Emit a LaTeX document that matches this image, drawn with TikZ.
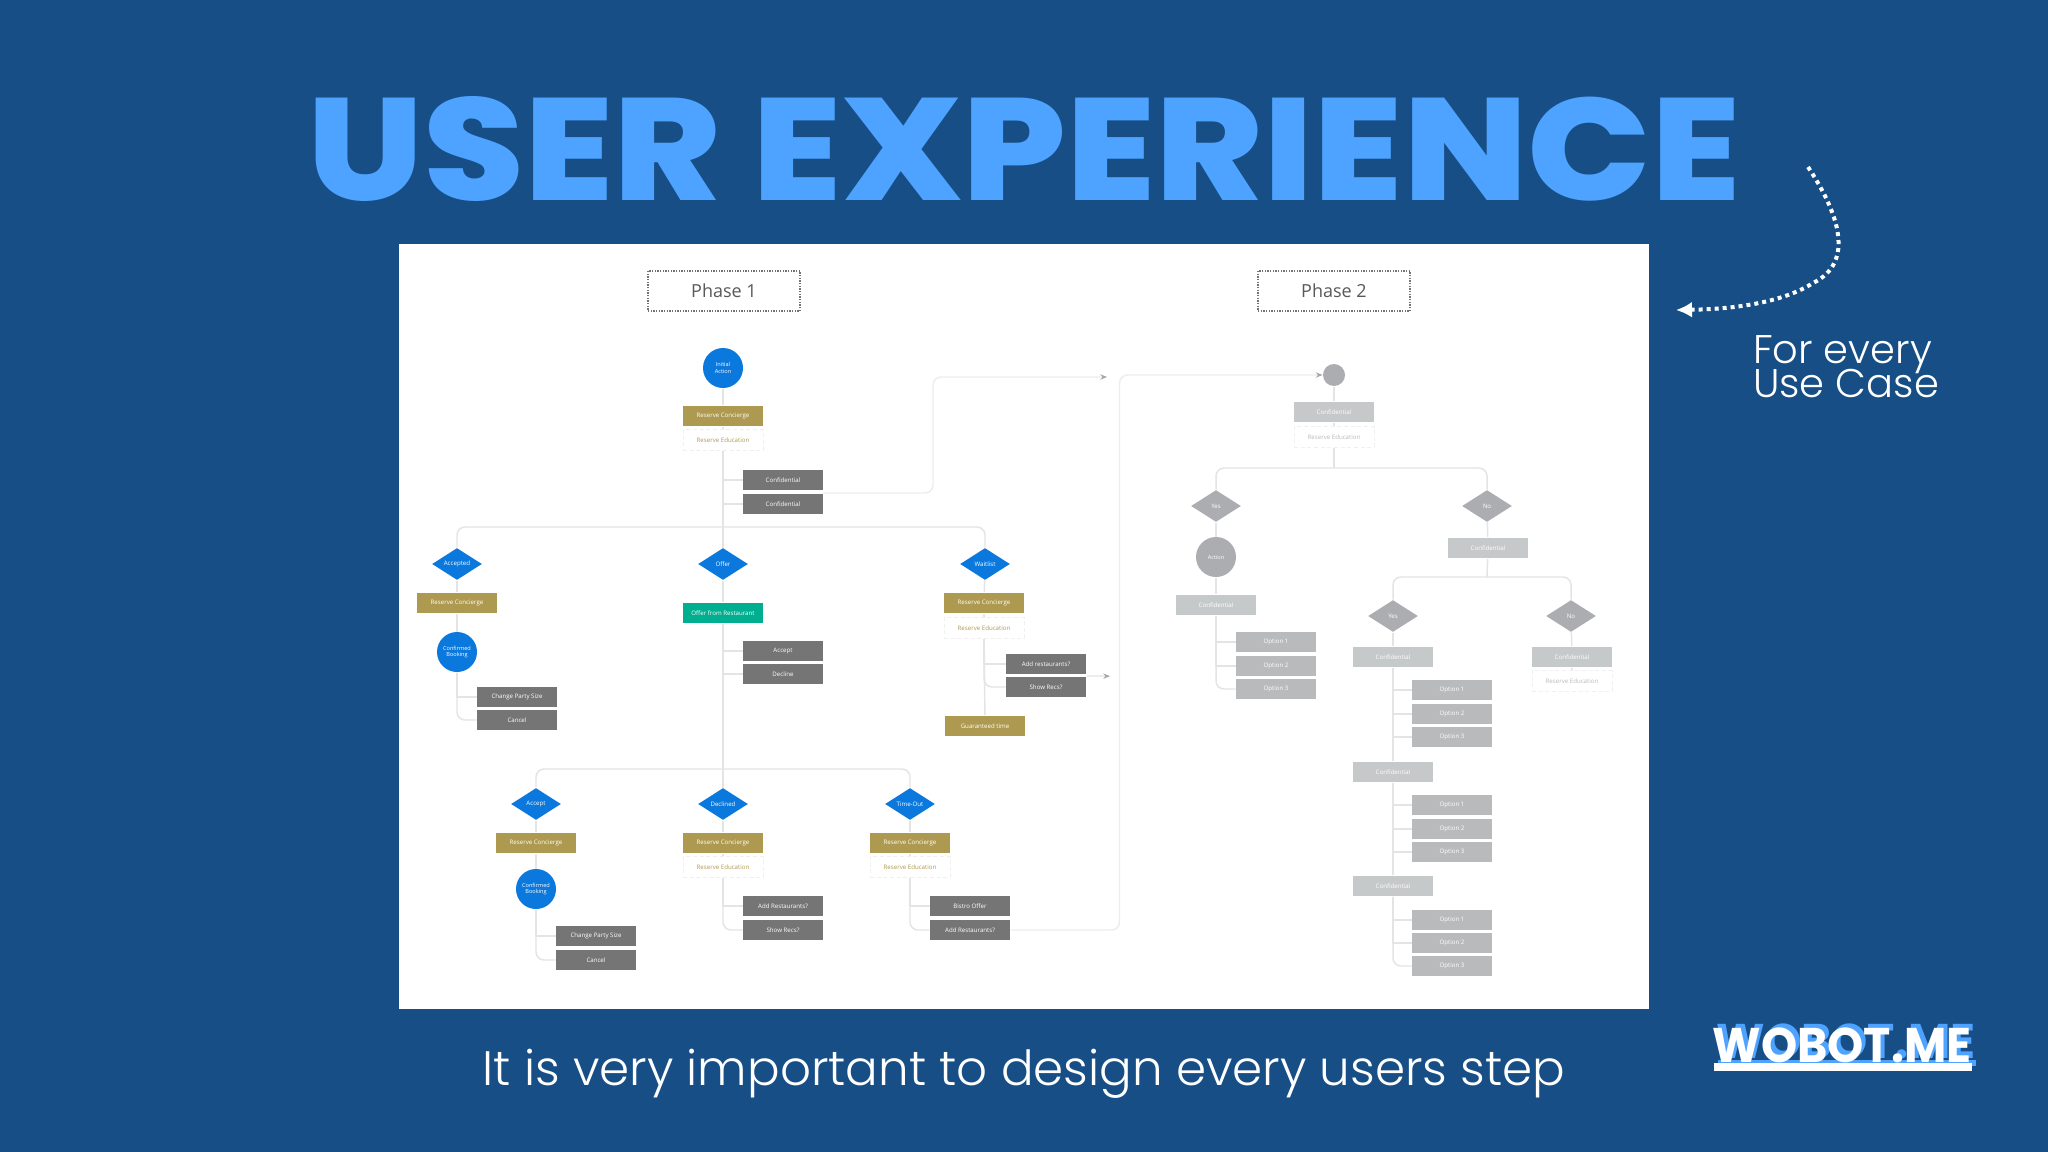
\documentclass[tikz,border=0pt]{standalone}
\usepackage{fontspec}
\usepackage{graphicx}
\usetikzlibrary{shapes.geometric,arrows.meta}
\setmainfont{Open Sans}
\newfontfamily\titlefont{Poppins ExtraBold}
\newfontfamily\logofont{Poppins}[UprightFont=* Bold]
\newfontfamily\lightfont{Poppins}[UprightFont=* Light]
\definecolor{slidebg}{RGB}{23,78,134}
\definecolor{titleblue}{RGB}{77,163,255}
\definecolor{flowblue}{RGB}{10,120,220}
\definecolor{flowgold}{RGB}{174,153,80}
\definecolor{flowteal}{RGB}{0,174,144}
\definecolor{flowgray}{RGB}{117,117,117}
\definecolor{paledia}{RGB}{171,173,176}
\definecolor{paleopt}{RGB}{184,186,188}
\definecolor{palebox}{RGB}{198,201,202}
\definecolor{linkgray}{RGB}{228,228,228}
\tikzset{every picture/.style={line width=0.75pt}}
\tikzset{
  cell/.style={draw=none,minimum width=60pt,minimum height=15.5pt,inner sep=0pt,font=\fontsize{4.6}{5.4}\selectfont,text=white,align=center},
  goldbox/.style={cell,fill=flowgold},
  tealbox/.style={cell,fill=flowteal},
  graybox/.style={cell,fill=flowgray},
  optbox/.style={cell,fill=paleopt},
  palebox/.style={cell,fill=palebox},
  eduline/.style={cell,fill=white,draw=black!6,densely dashed,text=flowgold},
  paleedu/.style={eduline,text=paleopt},
  bluedia/.style={shape=diamond,aspect=1.5,fill=flowblue,minimum width=37.5pt,minimum height=24pt,inner sep=0pt,font=\fontsize{4.6}{5.4}\selectfont,text=white},
  paledia/.style={bluedia,fill=paledia},
  bluecirc/.style={shape=circle,fill=flowblue,minimum size=30pt,inner sep=0pt,font=\fontsize{4.2}{5}\selectfont,text=white,align=center},
  palecirc/.style={bluecirc,fill=paledia},
  phasebox/.style={draw=black!55,densely dotted,line width=1pt,minimum width=114pt,minimum height=30pt,inner sep=0pt,text=black!65,font=\fontsize{13.5}{16}\selectfont},
  link/.style={draw=linkgray,line width=1.1pt},
  curvelink/.style={link,rounded corners=6pt},
  pointer/.style={curvelink,draw=black!7,-{Stealth[length=5pt,width=4pt,color=black!35]}}
}

\begin{document}
\begin{tikzpicture}[x=0.75pt,y=0.75pt,yscale=-1,xscale=1]
\useasboundingbox (0,0) rectangle (2048,1152);
\fill [slidebg] (0,0) rectangle (2048,1152);
\fill [white] (399,244) rectangle (1649,1009);

% Slide texts
\draw (1024,148.5) node [titleblue] (title) {\resizebox{1075pt}{78pt}{\titlefont USER EXPERIENCE}};
\draw (1024,1074) node [white] (caption) {\resizebox{812pt}{!}{\lightfont It is very important to design every users step}};
\draw (1846,367) node [white,align=left,font=\lightfont\fontsize{30}{24}\selectfont] (usecase) {For every\\[-4.5pt]Use Case};

%Logo
\draw (1846,1041) node [titleblue] (logoback) {\resizebox{194pt}{26pt}{\logofont WOBOT.ME}};
\fill [titleblue] (1718,1060) rectangle (1976,1066);
\draw (1842,1045) node [white] (logofront) {\resizebox{194pt}{26pt}{\logofont WOBOT.ME}};
\fill [white] (1714,1063) rectangle (1972,1071);

%Curved pointer
\coordinate (curlfrom) at (1808,167);
\coordinate (curlto) at (1676,310);
\draw [white,line width=3pt,dash pattern=on 3pt off 3pt,-{Latex[length=12pt,width=12pt]}] (curlfrom) .. controls (1838,212) and (1856,262) .. (1813,283) .. controls (1785,301) and (1740,309) .. (curlto);

% Phase 1 titles
\draw (724,291) node [phasebox] (phaseA) {Phase 1};
\draw (1334,291) node [phasebox] (phaseB) {Phase 2};

% Phase 1, top
\draw (723,368) node [bluecirc] (initial) {Initial\\Action};
\draw (723,416) node [goldbox] (conA) {Reserve Concierge};
\draw (723,440) node [eduline] (eduA) {Reserve Education};
\draw (783,480) node [graybox] (confA) {Confidential};
\draw (783,504) node [graybox] (confB) {Confidential};
\coordinate (hubA) at (723,527);

% Accepted branch
\draw (457,564) node [bluedia] (accepted) {Accepted};
\draw (457,603) node [goldbox] (conB) {Reserve Concierge};
\draw (457,652) node [bluecirc] (bookedA) {Confirmed\\Booking};
\draw (517,697) node [graybox] (sizeA) {Change Party Size};
\draw (517,720) node [graybox] (cancelA) {Cancel};

% Offer branch
\draw (723,564) node [bluedia] (offer) {Offer};
\draw (723,613) node [tealbox] (offerbox) {Offer from Restaurant};
\draw (783,651) node [graybox] (acceptbox) {Accept};
\draw (783,674) node [graybox] (declinebox) {Decline};
\coordinate (hubB) at (723,769);

% Waitlist branch
\draw (985,564) node [bluedia] (waitlist) {Waitlist};
\draw (984,603) node [goldbox] (conC) {Reserve Concierge};
\draw (984,628) node [eduline] (eduB) {Reserve Education};
\draw (1046,664) node [graybox] (addA) {Add restaurants?};
\draw (1046,687) node [graybox] (recsA) {Show Recs?};
\draw (985,726) node [goldbox] (guaranteed) {Guaranteed time};
\coordinate (stubA) at (1110,677);

% Lower branches
\draw (536,804) node [bluedia] (acceptdia) {Accept};
\draw (536,843) node [goldbox] (conD) {Reserve Concierge};
\draw (536,889) node [bluecirc] (bookedB) {Confirmed\\Booking};
\draw (596,936) node [graybox] (sizeB) {Change Party Size};
\draw (596,960) node [graybox] (cancelB) {Cancel};
\draw (723,804) node [bluedia] (declined) {Declined};
\draw (723,843) node [goldbox] (conE) {Reserve Concierge};
\draw (723,867) node [eduline] (eduC) {Reserve Education};
\draw (783,906) node [graybox] (addB) {Add Restaurants?};
\draw (783,930) node [graybox] (recsB) {Show Recs?};
\draw (910,804) node [bluedia] (timeout) {Time-Out};
\draw (910,843) node [goldbox] (conF) {Reserve Concierge};
\draw (910,867) node [eduline] (eduD) {Reserve Education};
\draw (970,906) node [graybox] (bistro) {Bistro Offer};
\draw (970,930) node [graybox] (addC) {Add Restaurants?};

% Phase 2, top
\draw (1334,375) node [palecirc,minimum size=16.5pt] (startdot) {};
\draw (1334,412) node [palebox] (confC) {Confidential};
\draw (1334,437) node [paleedu] (eduE) {Reserve Education};
\coordinate (hubC) at (1334,468);

% Phase 2, left
\draw (1216,506) node [paledia] (yesA) {Yes};
\draw (1216,557) node [palecirc] (action) {Action};
\draw (1216,605) node [palebox] (confD) {Confidential};
\draw (1276,642) node [optbox] (optA) {Option 1};
\draw (1276,666) node [optbox] (optB) {Option 2};
\draw (1276,689) node [optbox] (optC) {Option 3};

% Phase 2, right
\draw (1487,506) node [paledia] (noA) {No};
\draw (1488,548) node [palebox] (confE) {Confidential};
\coordinate (hubD) at (1487,577);
\draw (1393,616) node [paledia] (yesB) {Yes};
\draw (1393,657) node [palebox] (confF) {Confidential};
\draw (1452,690) node [optbox] (optD) {Option 1};
\draw (1452,714) node [optbox] (optE) {Option 2};
\draw (1452,737) node [optbox] (optF) {Option 3};
\draw (1393,772) node [palebox] (confG) {Confidential};
\draw (1452,805) node [optbox] (optG) {Option 1};
\draw (1452,829) node [optbox] (optH) {Option 2};
\draw (1452,852) node [optbox] (optI) {Option 3};
\draw (1393,886) node [palebox] (confH) {Confidential};
\draw (1452,920) node [optbox] (optJ) {Option 1};
\draw (1452,943) node [optbox] (optK) {Option 2};
\draw (1452,966) node [optbox] (optL) {Option 3};
\draw (1571,616) node [paledia] (noB) {No};
\draw (1572,657) node [palebox] (confI) {Confidential};
\draw (1572,681) node [paleedu] (eduF) {Reserve Education};

% Connectors, phase 1
\draw [link] (initial) -- (conA);
\draw [link] (conA) -- (eduA);
\draw [link] (eduA) -- (offer);
\draw [link] (eduA.south) |- (confA.west);
\draw [link] (eduA.south) |- (confB.west);
\draw [curvelink] (hubA) -| (accepted.north);
\draw [curvelink] (hubA) -| (waitlist.north);
\draw [link] (accepted) -- (conB);
\draw [link] (conB) -- (bookedA);
\draw [link] (bookedA.south) |- (sizeA.west);
\draw [curvelink] (bookedA.south) |- (cancelA.west);
\draw [link] (offer) -- (offerbox);
\draw [link] (offerbox) -- (declined);
\draw [link] (offerbox.south) |- (acceptbox.west);
\draw [link] (offerbox.south) |- (declinebox.west);
\draw [curvelink] (hubB) -| (acceptdia.north);
\draw [curvelink] (hubB) -| (timeout.north);
\draw [link] (waitlist) -- (conC);
\draw [link] (conC) -- (eduB);
\draw [link] (eduB) -- (guaranteed);
\draw [link] (eduB.south) |- (addA.west);
\draw [curvelink] (eduB.south) |- (recsA.west);
\draw [pointer] (recsA.north east) -- (recsA.north east -| stubA);
\draw [link] (acceptdia) -- (conD);
\draw [link] (conD) -- (bookedB);
\draw [link] (bookedB.south) |- (sizeB.west);
\draw [curvelink] (bookedB.south) |- (cancelB.west);
\draw [link] (declined) -- (conE);
\draw [link] (conE) -- (eduC);
\draw [link] (eduC.south) |- (addB.west);
\draw [curvelink] (eduC.south) |- (recsB.west);
\draw [link] (timeout) -- (conF);
\draw [link] (conF) -- (eduD);
\draw [link] (eduD.south) |- (bistro.west);
\draw [curvelink] (eduD.south) |- (addC.west);

% Long jumps
\coordinate (jumpfrom) at (823,493);
\coordinate (jumpto) at (1107,377);
\draw [pointer] (jumpfrom) -- ++(110,0) |- (jumpto);
\draw [pointer] (addC.east) -- ++(109,0) |- (startdot.west);

% Connectors, phase 2
\draw [link] (startdot) -- (confC);
\draw [link] (confC) -- (eduE);
\draw [link] (eduE) -- (hubC);
\draw [curvelink] (hubC) -| (yesA.north);
\draw [curvelink] (hubC) -| (noA.north);
\draw [link] (yesA) -- (action);
\draw [link] (action) -- (confD);
\draw [link] (confD.south) |- (optA.west);
\draw [link] (confD.south) |- (optB.west);
\draw [curvelink] (confD.south) |- (optC.west);
\draw [link] (noA) -- (confE);
\draw [link] (confE) -- (hubD);
\draw [curvelink] (hubD) -| (yesB.north);
\draw [curvelink] (hubD) -| (noB.north);
\draw [link] (yesB) -- (confF);
\draw [link] (confF) -- (confG);
\draw [link] (confG) -- (confH);
\draw [link] (confF.south) |- (optD.west);
\draw [link] (confF.south) |- (optE.west);
\draw [link] (confF.south) |- (optF.west);
\draw [link] (confG.south) |- (optG.west);
\draw [link] (confG.south) |- (optH.west);
\draw [link] (confG.south) |- (optI.west);
\draw [link] (confH.south) |- (optJ.west);
\draw [link] (confH.south) |- (optK.west);
\draw [curvelink] (confH.south) |- (optL.west);
\draw [link] (noB) -- (confI);
\draw [link] (confI) -- (eduF);

\end{tikzpicture}
\end{document}
